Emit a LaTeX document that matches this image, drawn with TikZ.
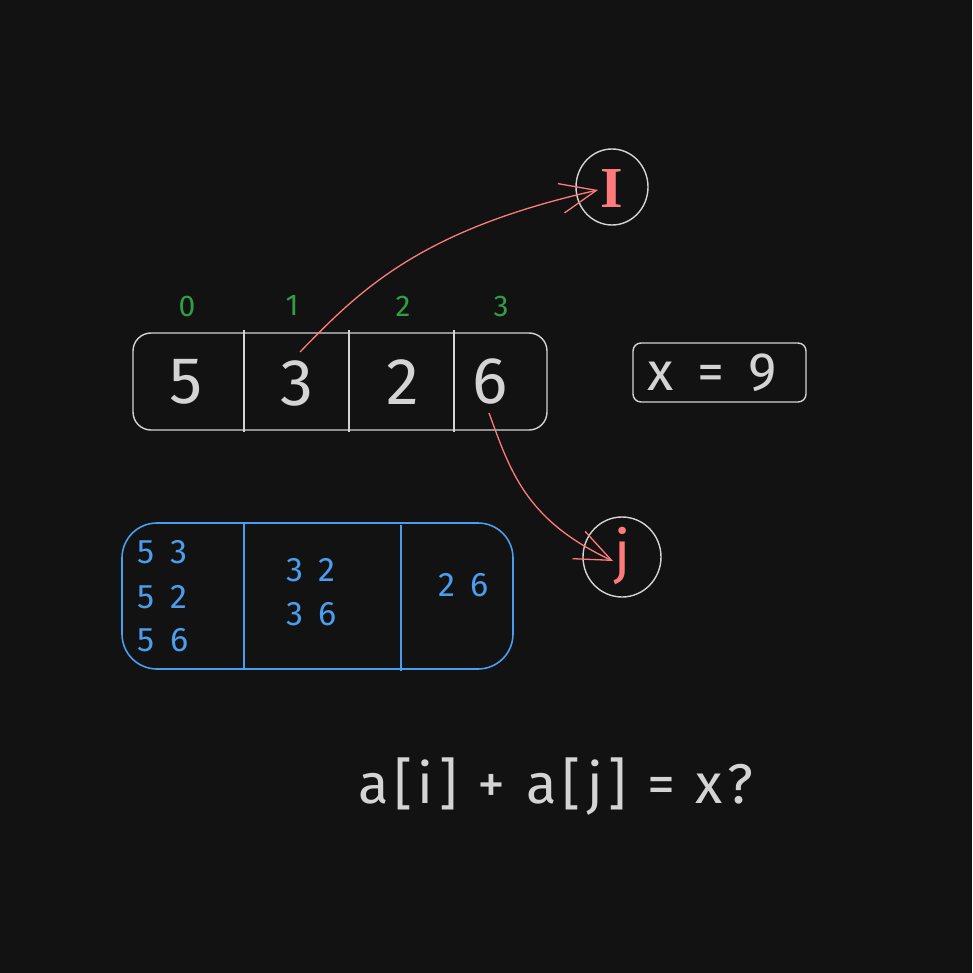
\documentclass[tikz,border=0pt]{standalone}
\usepackage{fontspec}
\setmainfont{Fira Sans}
\newfontfamily\serifI{Liberation Serif}
\usetikzlibrary{arrows.meta}
\definecolor{bg}{HTML}{121212}
\definecolor{ink}{HTML}{D4D4D4}
\definecolor{grn}{HTML}{2F9E44}
\definecolor{blu}{HTML}{4A9EED}
\definecolor{redc}{HTML}{FF7B7B}
\tikzset{
  cellnum/.style={text=ink, font=\fontsize{66}{66}\selectfont, inner sep=0pt},
  idx/.style={text=grn, font=\fontsize{30}{30}\selectfont, inner sep=0pt},
  pair/.style={text=blu, font=\fontsize{34}{40}\selectfont\addfontfeatures{LetterSpace=20}, inner sep=0pt, anchor=west},
  ptr/.style={text=redc, font=\fontsize{58}{58}\selectfont, inner sep=0pt},
  frame/.style={draw=ink, line width=1.4pt},
  bframe/.style={draw=blu, line width=1.6pt},
  link/.style={draw=redc, line width=1.3pt, -{Straight Barb[length=36pt, width=30pt, line width=1.3pt]}},
}
\begin{document}
\begin{tikzpicture}[x=1pt,y=-1pt]
\fill[bg] (0,0) rectangle (972,973);
\useasboundingbox (0,0) rectangle (972,973);
% array box
\draw[frame, rounded corners=18pt] (133,333) rectangle (547,430);
\draw[frame] (244,330) -- (244,432);
\draw[frame] (349,330) -- (349,432);
\draw[frame] (454,330) -- (454,432);
\node[cellnum] (c0) at (186,382) {5};
\node[cellnum] (c1) at (297,383) {3};
\node[cellnum] (c2) at (403,382) {2};
\node[cellnum] (c3) at (490,381) {6};
\node[idx] (i0) at (187,306) {0};
\node[idx] (i1) at (292,305) {1};
\node[idx] (i2) at (403,306) {2};
\node[idx] (i3) at (501,306) {3};
% x = 9
\draw[frame, rounded corners=8pt] (633,343) rectangle (806,402);
\node[text=ink, font=\fontsize{54}{54}\selectfont\addfontfeatures{LetterSpace=18}, inner sep=0pt, anchor=west] (xv) at (647,373) {x = 9};
% pointers
\draw[frame] (612,187) ellipse (36pt and 38pt);
\node[ptr, font=\fontsize{58}{58}\selectfont\serifI\bfseries] (I) at (612,189) {I};
\draw[frame] (622,557) ellipse (39pt and 40pt);
\node[ptr] (J) at (623,556) {j};
\coordinate (s1) at (300,352);
\coordinate (e1) at (598,190);
\coordinate (s2) at (489,413);
\coordinate (e2) at (613,561);
\draw[link] (s1) .. controls (360,290) and (420,230) .. (e1);
\draw[link] (s2) .. controls (510,470) and (525,520) .. (e2);
% blue box
\draw[bframe, rounded corners=35pt] (122,523) rectangle (513,669);
\draw[bframe] (244,523) -- (244,669);
\draw[bframe] (401,525) -- (401,671);
\node[pair] (p1) at (137,552) {5 3};
\node[pair] (p2) at (137,597) {5 2};
\node[pair] (p3) at (137,640) {5 6};
\node[pair] (p4) at (286,570) {3 2};
\node[pair] (p5) at (286,614) {3 6};
\node[pair] (p6) at (438,585) {2 6};
% question
\node[text=ink, font=\fontsize{56}{56}\selectfont\addfontfeatures{LetterSpace=10}, inner sep=0pt, anchor=west] (q) at (358,787) {a[i] + a[j] = x?};
\end{tikzpicture}
\end{document}
